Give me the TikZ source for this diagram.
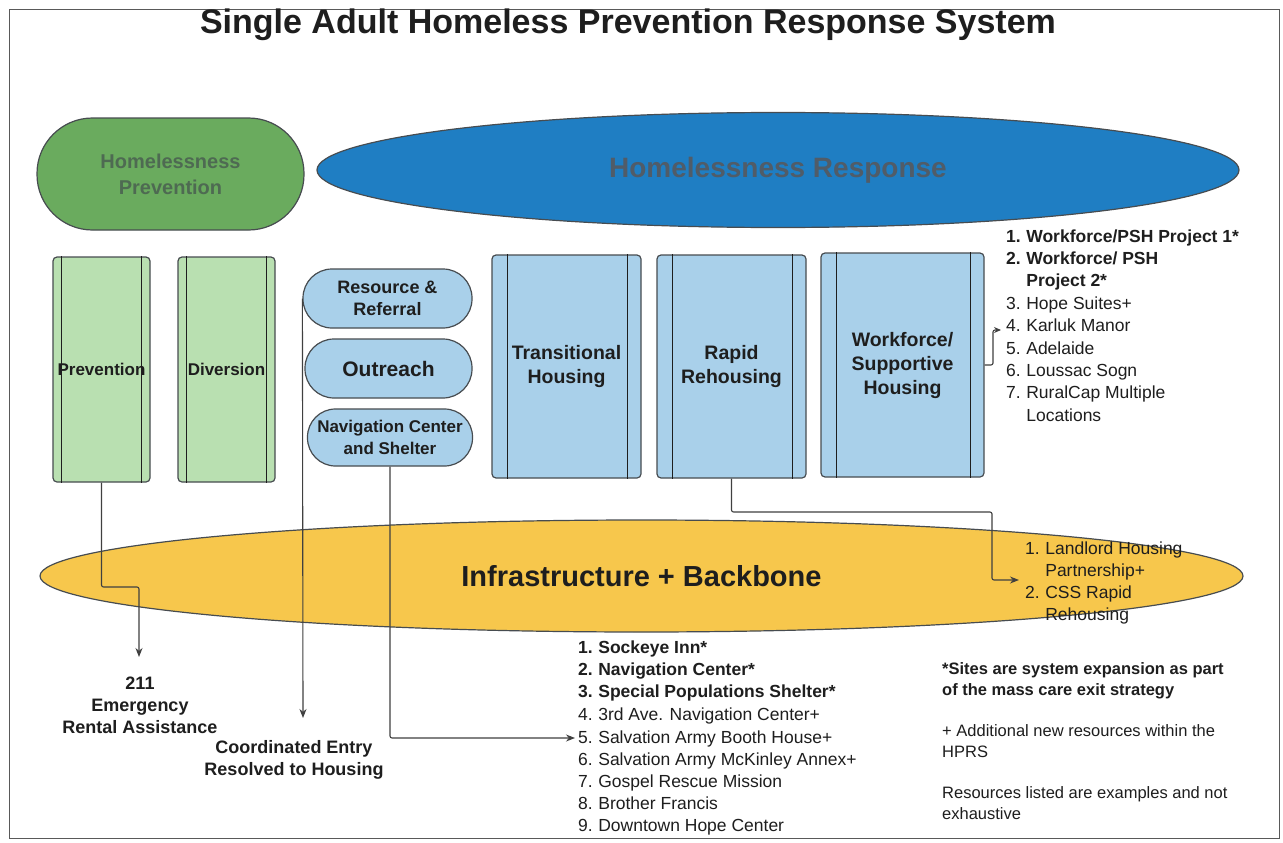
\documentclass[tikz,border=0pt]{standalone}
\usepackage{fontspec}
\setmainfont{Liberation Sans}
\usetikzlibrary{shapes.geometric,arrows.meta}
\definecolor{gdark}{HTML}{6AAB5E}
\definecolor{gtext}{HTML}{4E6A52}
\definecolor{gbox}{HTML}{B9E0B1}
\definecolor{bbig}{HTML}{1F7EC3}
\definecolor{btext}{HTML}{505C68}
\definecolor{bbox}{HTML}{A9D0EA}
\definecolor{ylw}{HTML}{F7C74C}
\definecolor{edgec}{HTML}{474C50}
\definecolor{inkc}{HTML}{1E1E1E}
\newcommand\myfs[2]{\fontsize{#1}{#2}\selectfont}
\newcommand\nm[1]{\makebox[1.15em][l]{#1}}
\tikzset{
  shp/.style={draw=edgec, line width=1.2pt, inner sep=0pt, align=center, text=inkc},
  gbx/.style={shp, fill=gbox, rounded corners=4pt, minimum width=97pt, minimum height=225pt, font=\bfseries\myfs{17}{20}},
  bbx/.style={shp, fill=bbox, rounded corners=4pt, minimum height=223pt, font=\bfseries\myfs{19.5}{24}},
  pill/.style={shp, fill=bbox, minimum width=167pt, minimum height=59pt, rounded corners=29pt},
  lst/.style={anchor=base west, inner sep=0pt, text=inkc, font=\myfs{17.5}{21}},
  note/.style={anchor=base west, inner sep=0pt, text=inkc, font=\myfs{16.5}{21}},
  conn/.style={draw=inkc!85, line width=1.1pt, rounded corners=2pt},
  tip/.style={-{Stealth[length=9pt,width=7pt]}},
  inner/.style={draw=inkc, line width=1.1pt}
}
\begin{document}
\begin{tikzpicture}[x=1pt,y=-1pt]
\useasboundingbox (0,0) rectangle (1283,843);
\fill[white] (0,0) rectangle (1283,843);
% frame
\draw[gray!70!black, line width=1pt] (9,10) rectangle (1279,838);
% title
\node[anchor=base, inner sep=0pt, font=\bfseries\myfs{34}{40}, text=inkc] (title) at (628,34) {Single Adult Homeless Prevention Response System};
% top shapes
\node[shp, fill=gdark, minimum width=267pt, minimum height=112pt, rounded corners=55.5pt, text=gtext, font=\bfseries\myfs{20}{26}] (hp) at (170.5,174) {Homelessness\\Prevention};
\node[shp, ellipse, fill=bbig, minimum width=922pt, minimum height=115pt, text=btext, font=\bfseries\myfs{28}{32}] (hr) at (778,170) {Homelessness Response};
% green boxes
\node[gbx] (prev) at (101.5,369.5) {Prevention};
\node[gbx] (div) at (226.5,369.5) {Diversion};
\foreach \b in {prev,div}{
  \draw[inner] ([xshift=9pt]\b.north west) -- ([xshift=9pt]\b.south west);
  \draw[inner] ([xshift=-9pt]\b.north east) -- ([xshift=-9pt]\b.south east);
}
% pills
\node[pill, minimum width=169pt, font=\bfseries\myfs{18}{22}] (rr) at (387.5,298.5) {Resource \&\\Referral};
\node[pill, font=\bfseries\myfs{21}{24}] (out) at (388.5,368.5) {Outreach};
\node[pill, minimum width=165pt, minimum height=57pt, rounded corners=28pt, font=\bfseries\myfs{17}{22}] (nav) at (390,437.5) {Navigation Center\\and Shelter};
% blue boxes
\node[bbx, minimum width=149pt] (th) at (566.5,366.5) {Transitional\\Housing};
\node[bbx, minimum width=149pt] (rh) at (731.5,366.5) {Rapid\\Rehousing};
\node[bbx, minimum width=163pt, minimum height=224pt] (wf) at (902.5,365) {Workforce/\\Supportive\\Housing};
\foreach \b in {th,rh,wf}{
  \draw[inner] ([xshift=16pt]\b.north west) -- ([xshift=16pt]\b.south west);
  \draw[inner] ([xshift=-14pt]\b.north east) -- ([xshift=-14pt]\b.south east);
}
% yellow ellipse
\node[shp, ellipse, fill=ylw, minimum width=1203pt, minimum height=112pt, font=\bfseries\myfs{29}{32}] (ib) at (641.5,576) {Infrastructure + Backbone};
% workforce list
\node[lst, font=\bfseries\myfs{17.5}{21}] (w1) at (1006,242) {\nm{1.}Workforce/PSH Project 1*};
\node[lst, font=\bfseries\myfs{17.5}{21}] (w2) at (1006,264.4) {\nm{2.}Workforce/ PSH};
\node[lst, font=\bfseries\myfs{17.5}{21}] (w2b) at (1006,286.8) {\nm{}Project 2*};
\node[lst] (w3) at (1006,309.2) {\nm{3.}Hope Suites+};
\node[lst] (w4) at (1006,331.6) {\nm{4.}Karluk Manor};
\node[lst] (w5) at (1006,354) {\nm{5.}Adelaide};
\node[lst] (w6) at (1006,376.4) {\nm{6.}Loussac Sogn};
\node[lst] (w7) at (1006,398.8) {\nm{7.}RuralCap Multiple};
\node[lst] (w7b) at (1006,421.2) {\nm{}Locations};
% rapid rehousing list
\node[lst] (y1) at (1025,554) {\nm{1.}Landlord Housing};
\node[lst] (y1b) at (1025,576) {\nm{}Partnership+};
\node[lst] (y2) at (1025,598) {\nm{2.}CSS Rapid};
\node[lst] (y2b) at (1025,620) {\nm{}Rehousing};
% shelter list
\node[lst, font=\bfseries\myfs{17.5}{21}] (s1) at (578,653) {\nm{1.}Sockeye Inn*};
\node[lst, font=\bfseries\myfs{17.5}{21}] (s2) at (578,675.3) {\nm{2.}Navigation Center*};
\node[lst, font=\bfseries\myfs{17.5}{21}] (s3) at (578,697.6) {\nm{3.}Special Populations Shelter*};
\node[lst] (s4) at (578,720) {\nm{4.}3rd Ave. Navigation Center+};
\node[lst] (s5) at (578,743) {\nm{5.}Salvation Army Booth House+};
\node[lst] (s6) at (578,765) {\nm{6.}Salvation Army McKinley Annex+};
\node[lst] (s7) at (578,787) {\nm{7.}Gospel Rescue Mission};
\node[lst] (s8) at (578,809) {\nm{8.}Brother Francis};
\node[lst] (s9) at (578,831) {\nm{9.}Downtown Hope Center};
% notes
\node[note, font=\bfseries\myfs{16.5}{21}] (n1) at (942,674) {*Sites are system expansion as part};
\node[note, font=\bfseries\myfs{16.5}{21}] (n1b) at (942,695) {of the mass care exit strategy};
\node[note] (n2) at (942,736) {+ Additional new resources within the};
\node[note] (n2b) at (942,757) {HPRS};
\node[note] (n3) at (942,798) {Resources listed are examples and not};
\node[note] (n3b) at (942,819) {exhaustive};
% bottom labels
\node[anchor=base, inner sep=0pt, font=\bfseries\myfs{18}{22}, text=inkc] (era1) at (140,689) {211};
\node[anchor=base, inner sep=0pt, font=\bfseries\myfs{18}{22}, text=inkc] (era2) at (140,711) {Emergency};
\node[anchor=base, inner sep=0pt, font=\bfseries\myfs{18}{22}, text=inkc] (era3) at (140,733) {Rental Assistance};
\node[anchor=base, inner sep=0pt, font=\bfseries\myfs{18}{22}, text=inkc] (ce1) at (294,753) {Coordinated Entry};
\node[anchor=base, inner sep=0pt, font=\bfseries\myfs{18}{22}, text=inkc] (ce2) at (294,775) {Resolved to Housing};
% connector end points
\coordinate (e211) at (139,657);
\coordinate (ece) at (303,718);
\coordinate (es5) at (575,738);
\coordinate (eyl) at (1019,580);
\coordinate (ewf) at (1001,330);
% connectors
\draw[conn, tip] (prev.south) -- (101.5,587) -- (139,587) -- (e211);
\draw[conn, tip] (rr.west) -- (ece);
\draw[conn, tip] (nav.south) |- (es5);
\draw[conn, tip] (rh.south) |- (992,512) -- (992,580) -- (eyl);
\draw[conn, -{Stealth[length=7pt,width=6pt]}] (wf.east) -- (993,365) -- (993,330) -- (ewf);
\end{tikzpicture}
\end{document}
